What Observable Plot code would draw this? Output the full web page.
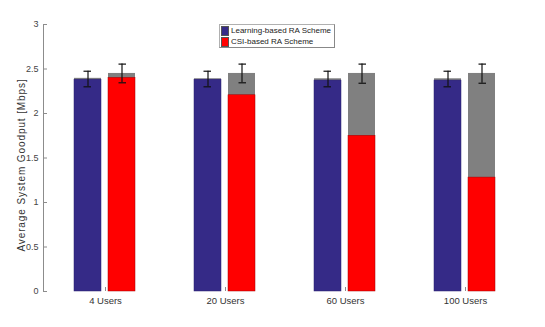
<!DOCTYPE html>
<html>
<head>
<meta charset="utf-8">
<script src="https://cdn.jsdelivr.net/npm/d3@7"></script>
<script src="https://cdn.jsdelivr.net/npm/@observablehq/plot@0.6"></script>
<style>
  html, body { margin: 0; padding: 0; background: #fff; }
  #wrap { position: relative; width: 545px; height: 327px; font-family: "Liberation Sans", Arial, sans-serif; }
  #legend { position: absolute; left: 219px; top: 24px; width: 114px; height: 22px; border: 1px solid #b0b0b0; border-right-color: #888; border-bottom-color: #888; background: #fff; font-size: 8px; color: #222; }
  .row { display: flex; align-items: center; height: 11px; padding-left: 1px; }
  .sw { width: 8px; height: 10px; margin-right: 2px; border: 0.5px solid #555; box-sizing: border-box; }
  g[aria-label="text"] text { letter-spacing: 0.9px; }
</style>
</head>
<body>
<div id="wrap"></div>
<script>
// ---- data ----
const groups = ["4 Users", "20 Users", "60 Users", "100 Users"];
const seriesNames = ["Learning-based RA Scheme", "CSI-based RA Scheme"];
const yLabel = "Average System Goodput [Mbps]";
const learnValue = [2.38, 2.38, 2.37, 2.37];
const learnTotal = [2.395, 2.39, 2.39, 2.39];
const learnErrLo = [2.30, 2.30, 2.30, 2.30];
const learnErrHi = [2.475, 2.475, 2.475, 2.475];
const csiValue = [2.40, 2.205, 1.75, 1.28];
const csiTotal = [2.45, 2.45, 2.45, 2.45];
const csiErrLo = [2.345, 2.345, 2.34, 2.34];
const csiErrHi = [2.555, 2.555, 2.555, 2.555];
const yTicks = [0, 0.5, 1, 1.5, 2, 2.5, 3];

const colors = { learn: "#352a87", csi: "#ff0000", grey: "#808080" };

const learnRows = groups.map((g, i) => ({ group: g, value: learnValue[i], total: learnTotal[i], lo: learnErrLo[i], hi: learnErrHi[i] }));
const csiRows = groups.map((g, i) => ({ group: g, value: csiValue[i], total: csiTotal[i], lo: csiErrLo[i], hi: csiErrHi[i] }));

const L = { insetLeft: 29, insetRight: 64 };
const C = { insetLeft: 63, insetRight: 30 };
const Lcap = { insetLeft: 38.5, insetRight: 74 };
const Ccap = { insetLeft: 73.5, insetRight: 39 };

const chart = Plot.plot({
  width: 545,
  height: 327,
  marginLeft: 43,
  marginRight: 19,
  marginTop: 24,
  marginBottom: 36,
  style: { fontFamily: "'Liberation Sans', Arial, sans-serif", fontSize: "9px", color: "#333", background: "#fff" },
  x: { domain: groups, padding: 0, axis: null },
  y: { domain: [0, 3], axis: null },
  marks: [
    Plot.frame({ anchor: "left", stroke: "#8c8c8c" }),
    Plot.axisY(yTicks, { tickSize: -4, tickPadding: 9, stroke: "#8c8c8c", fill: "#444", tickFormat: d => String(d), label: null }),
    Plot.text([yLabel], { text: d => d, frameAnchor: "left", textAnchor: "middle", rotate: -90, dx: -21.5, dy: 7, fontSize: 10, fill: "#333" }),
    Plot.axisX(groups, { tickSize: -4, tickPadding: 10, stroke: "#8c8c8c", fill: "#333", fontSize: 9.5, label: null }),
    // learning-based bars
    Plot.barY(learnRows, { x: "group", y: "total", fill: colors.grey, ...L }),
    Plot.barY(learnRows, { x: "group", y: "value", fill: colors.learn, stroke: "#2a2270", strokeWidth: 0.5, ...L }),
    // CSI-based bars
    Plot.barY(csiRows, { x: "group", y: "total", fill: colors.grey, ...C }),
    Plot.barY(csiRows, { x: "group", y: "value", fill: colors.csi, stroke: "#a00000", strokeWidth: 0.5, ...C }),
    // error bars
    Plot.ruleX(learnRows, { x: "group", y1: "lo", y2: "hi", dx: -17.5, stroke: "#111", strokeWidth: 1.2 }),
    Plot.tickY(learnRows, { x: "group", y: "lo", stroke: "#111", strokeWidth: 1.2, ...Lcap }),
    Plot.tickY(learnRows, { x: "group", y: "hi", stroke: "#111", strokeWidth: 1.2, ...Lcap }),
    Plot.ruleX(csiRows, { x: "group", y1: "lo", y2: "hi", dx: 16.5, stroke: "#111", strokeWidth: 1.2 }),
    Plot.tickY(csiRows, { x: "group", y: "lo", stroke: "#111", strokeWidth: 1.2, ...Ccap }),
    Plot.tickY(csiRows, { x: "group", y: "hi", stroke: "#111", strokeWidth: 1.2, ...Ccap })
  ]
});

const wrap = document.getElementById("wrap");
wrap.appendChild(chart);

const legend = document.createElement("div");
legend.id = "legend";
[[seriesNames[0], colors.learn], [seriesNames[1], colors.csi]].forEach(([name, c]) => {
  const row = document.createElement("div");
  row.className = "row";
  const sw = document.createElement("span");
  sw.className = "sw";
  sw.style.background = c;
  const t = document.createElement("span");
  t.textContent = name;
  row.appendChild(sw);
  row.appendChild(t);
  legend.appendChild(row);
});
wrap.appendChild(legend);
</script>
</body>
</html>
